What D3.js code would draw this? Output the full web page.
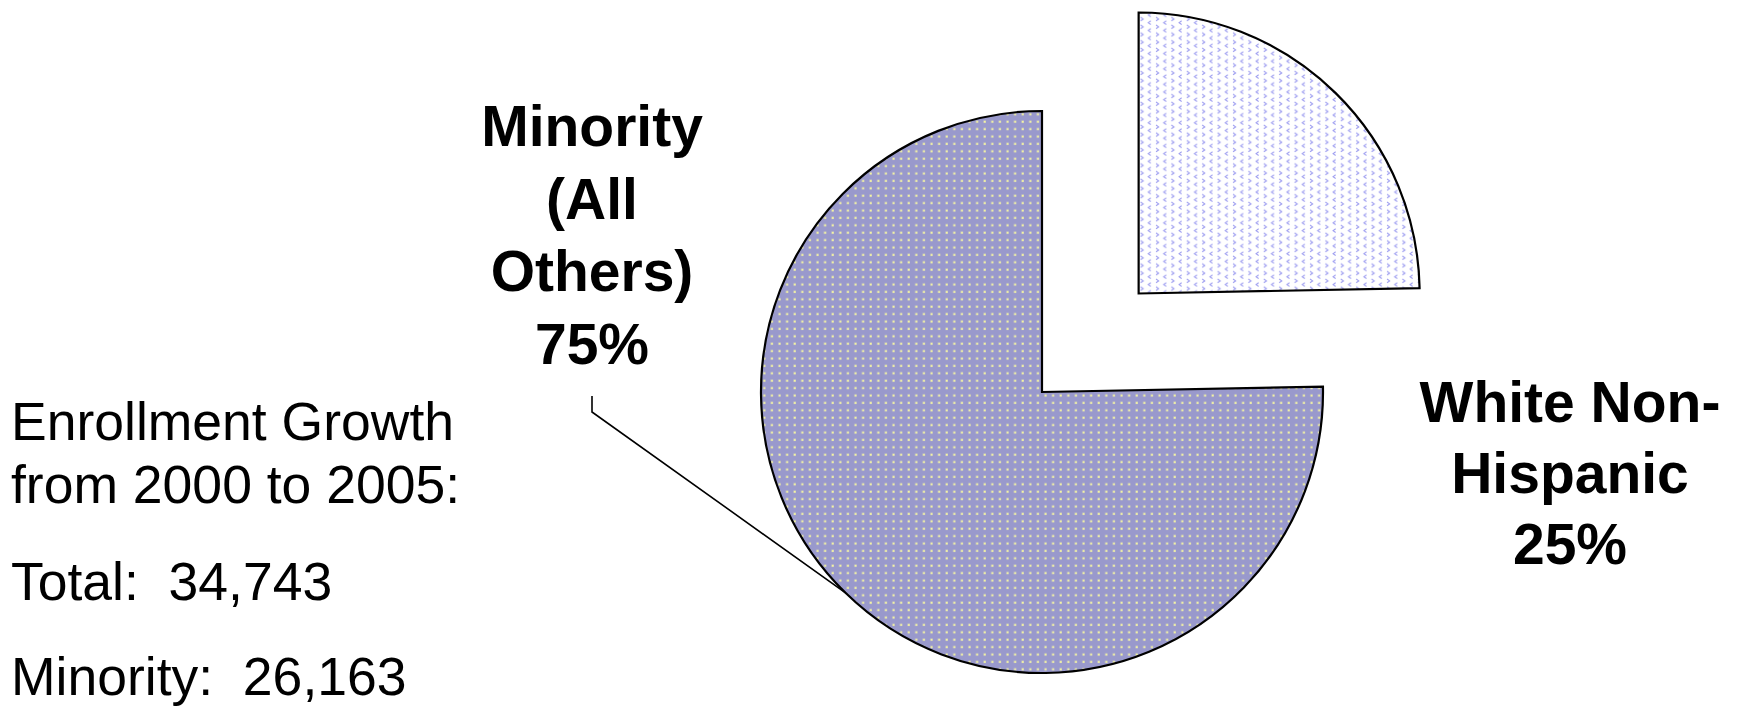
<!DOCTYPE html>
<html>
<head>
<meta charset="utf-8">
<script src="https://cdn.jsdelivr.net/npm/d3@7"></script>
<style>
  html, body { margin: 0; padding: 0; background: #fff; }
  svg { display: block; }
  text { font-family: "Liberation Sans", Arial, sans-serif; }
</style>
</head>
<body>
<svg id="chart" width="1741" height="706"></svg>
<script>
// Enrollment growth 2000-2005 by group
const categories = ["White Non-Hispanic", "Minority (All Others)"];
const values = [8580, 26163];
const labelLines = [["White Non-", "Hispanic"], ["Minority", "(All", "Others)"]];
const noteLines = ["Enrollment Growth", "from 2000 to 2005:", "Total:  34,743", "Minority:  26,163"];

const svg = d3.select("#chart");
const defs = svg.append("defs");

// Dotted fill for the minority slice
const dots = defs.append("pattern")
  .attr("id", "dots").attr("patternUnits", "userSpaceOnUse")
  .attr("width", 7.6).attr("height", 7.4);
dots.append("rect").attr("width", 7.6).attr("height", 7.4).attr("fill", "#9999cc");
dots.append("rect").attr("x", 2.3).attr("y", 2.3).attr("width", 2.4).attr("height", 2.4).attr("fill", "#d6d6b6");
dots.append("rect").attr("x", 2.9).attr("y", 2.9).attr("width", 1.3).attr("height", 1.3).attr("fill", "#ffff99");

// Chevron fill for the white slice
const chev = defs.append("pattern")
  .attr("id", "chev").attr("patternUnits", "userSpaceOnUse")
  .attr("width", 15.4).attr("height", 7.7);
chev.append("rect").attr("width", 15.4).attr("height", 7.7).attr("fill", "#ffffff");
chev.append("path").attr("d", "M2,1 L4.5,2.8 L2,4.6")
  .attr("fill", "none").attr("stroke", "#9a9af0").attr("stroke-width", 1.1);
chev.append("path").attr("d", "M12.2,4.6 L9.7,6.4 L12.2,8.2 M12.2,-3.1 L9.7,-1.3 L12.2,0.5")
  .attr("fill", "none").attr("stroke", "#9a9af0").attr("stroke-width", 1.1);

const fills = ["url(#chev)", "url(#dots)"];
const explode = [138, 0];

const cx = 1042, cy = 392, r = 281;

const pie = d3.pie().sort(null).value(d => d)(values);
const arc = d3.arc().innerRadius(0).outerRadius(r);
const total = d3.sum(values);

const g = svg.append("g").attr("transform", `translate(${cx},${cy})`);

g.selectAll("path.slice")
  .data(pie)
  .join("path")
  .attr("class", "slice")
  .attr("transform", (d, i) => {
    const a = (d.startAngle + d.endAngle) / 2;
    return `translate(${Math.sin(a) * explode[i]},${-Math.cos(a) * explode[i]})`;
  })
  .attr("d", arc)
  .attr("fill", (d, i) => fills[i])
  .attr("stroke", "#000")
  .attr("stroke-width", 2.2)
  .attr("stroke-linejoin", "miter");

// Leader line from the minority label to its slice edge
const mSlice = pie[1];
const mid = (mSlice.startAngle + mSlice.endAngle) / 2;
const edge = [cx + Math.sin(mid) * r, cy - Math.cos(mid) * r];
svg.append("path")
  .attr("d", d3.line()([[592, 396], [592, 412], edge]))
  .attr("fill", "none").attr("stroke", "#000").attr("stroke-width", 1.6);

// Slice labels
const labelPos = [{ x: 1570, y: 422, dy: 71 }, { x: 592, y: 146, dy: 72.7 }];
pie.forEach((d, i) => {
  const lines = labelLines[i].concat([Math.round(d.value / total * 100) + "%"]);
  const t = svg.append("text")
    .attr("text-anchor", "middle")
    .attr("font-weight", "bold")
    .attr("font-size", 57)
    .attr("fill", "#000");
  lines.forEach((s, j) => {
    t.append("tspan").attr("x", labelPos[i].x).attr("y", labelPos[i].y + j * labelPos[i].dy).text(s);
  });
});

// Side note
const noteY = [440, 503, 600, 695];
svg.append("g").selectAll("text")
  .data(noteLines)
  .join("text")
  .attr("x", 11)
  .attr("y", (d, i) => noteY[i])
  .attr("font-size", 53.5)
  .attr("fill", "#000")
  .style("white-space", "pre")
  .attr("xml:space", "preserve")
  .text(d => d);
</script>
</body>
</html>
